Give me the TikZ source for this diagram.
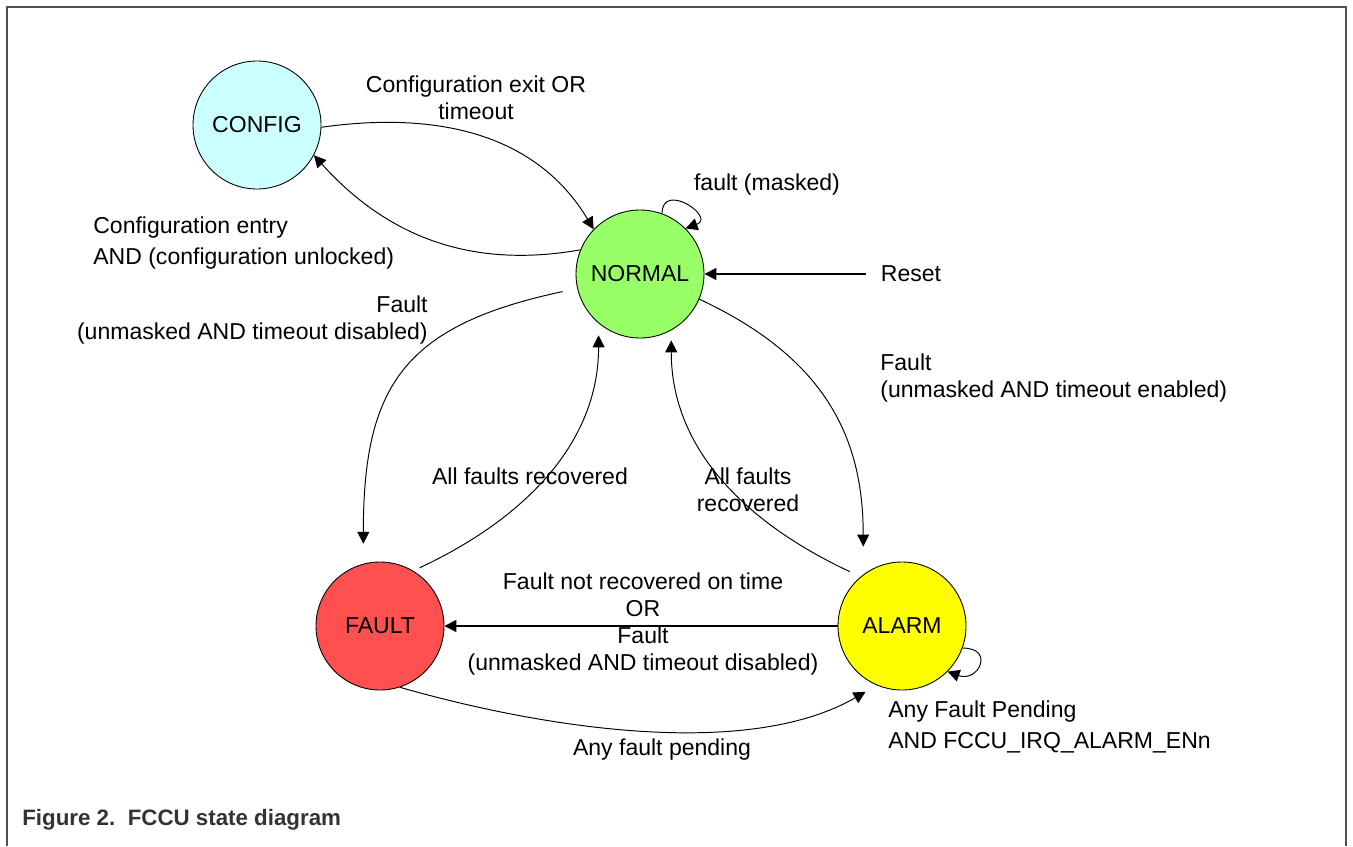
\documentclass[tikz,border=0pt]{standalone}
\usepackage{fontspec}
\setmainfont{Liberation Sans}
\usepackage{tikz}
\usetikzlibrary{arrows.meta}
\definecolor{cfgcyan}{HTML}{CCFFFF}
\definecolor{normgreen}{HTML}{99FF66}
\definecolor{faultred}{HTML}{FF5050}
\definecolor{alarmyellow}{HTML}{FFFF00}
\definecolor{framegray}{HTML}{505050}
\definecolor{capgray}{HTML}{333333}
\tikzstyle{stnode} =
[circle, minimum size = 2.56cm, inner sep = 0pt, text centered,
draw=black, line width = 0.5pt, font=\fontsize{13.1}{15.2}\selectfont]
\tikzstyle{lbl} =
[inner sep = 0pt, font=\fontsize{13.1}{15.2}\selectfont]
\tikzstyle{line} = [draw, line width = 0.55pt,
-{Triangle[length=0.24cm, width=0.24cm]}]
\tikzstyle{bar} = [line, line width = 0.9pt]

\begin{document}
\begin{tikzpicture}[node distance = 1.5cm, auto]
  \useasboundingbox (0,0) rectangle (27.06,-16.92);
  \draw [framegray, line width=1.1pt] (0.14,-16.92) -- (0.14,-0.14)
   -- (26.92,-0.14) -- (26.92,-16.92);
  % states
  \node [stnode, fill=cfgcyan] (config) at (5.14,-2.5) {CONFIG};
  \node [stnode, fill=normgreen] (normal) at (12.8,-5.48) {NORMAL};
  \node [stnode, fill=faultred] (fault) at (7.6,-12.52) {FAULT};
  \node [stnode, fill=alarmyellow, right of=fault, node distance=10.44cm]
   (alarm) {ALARM};
  \node [lbl, inner xsep=0.3cm, right of=normal, node distance=5.42cm]
   (reset) {Reset};
  % labels
  \node [lbl, align=center] (cfgexit) at (9.52,-1.96)
   {Configuration exit OR\\timeout};
  \node [lbl, align=left, anchor=west] (cfgentry) at (1.86,-4.86)
   {Configuration entry\\[2pt]AND (configuration unlocked)};
  \node [lbl] (masked) at (15.34,-3.7) {fault (masked)};
  \node [lbl, align=right, anchor=east] (fltdis) at (8.56,-6.4)
   {Fault\\(unmasked AND timeout disabled)};
  \node [lbl, align=left, anchor=west] (flten) at (17.6,-7.56)
   {Fault\\(unmasked AND timeout enabled)};
  \node [lbl] (recfault) at (10.6,-9.52) {All faults recovered};
  \node [lbl, align=center] (recalarm) at (14.96,-9.8)
   {All faults\\recovered};
  \node [lbl, align=center] (notrec) at (12.86,-12.48)
   {Fault not recovered on time\\OR\\Fault\\(unmasked AND timeout disabled)};
  \node [lbl] (pending) at (13.24,-15.0) {Any fault pending};
  \node [lbl, align=left, anchor=west] (alarmloop) at (17.76,-14.54)
   {Any Fault Pending\\[2pt]AND FCCU\_IRQ\_ALARM\_ENn};
  \node [anchor=base west, inner sep=0pt, text=capgray,
   font=\bfseries\fontsize{12.7}{15}\selectfont] (caption) at (0.44,-16.5)
   {Figure 2.\ \ FCCU state diagram};
  % edges
  \path [line] (config.-2) to[out=8, in=121] (normal.136);
  \path [line] (normal.158) to[out=190, in=-48] (config.-28);
  \path [line] (normal.70) to[out=90, in=20, looseness=3] (normal.45);
  \path [bar] (reset) -- (normal);
  \path [line, shorten <=0.3cm, shorten >=0.4cm]
   (normal.193) to[out=192, in=90, looseness=1.3] (fault.105);
  \path [line, shorten <=0.14cm, shorten >=0.24cm]
   (fault.59) to[out=25, in=-90] (normal.-130);
  \path [line, shorten <=0.24cm, shorten >=0.2cm]
   (alarm.130) to[out=155, in=-90] (normal.-61);
  \path [line, shorten >=0.56cm]
   (normal.-23) to[out=-25, in=90, looseness=1.1] (alarm.127);
  \path [bar] (alarm) -- (fault);
  \path [line, shorten >=0.26cm]
   (fault.-72) to[out=-16, in=210, looseness=0.8] (alarm.-113);
  \path [line] (alarm.-20) to[out=0, in=-20, looseness=3] (alarm.-45);
\end{tikzpicture}
\end{document}
